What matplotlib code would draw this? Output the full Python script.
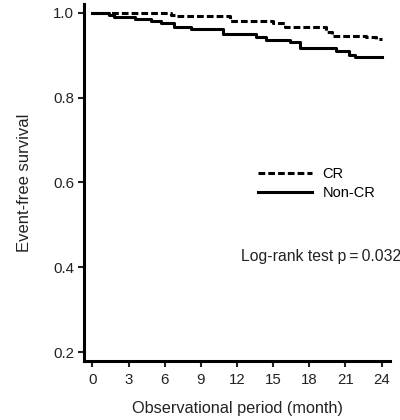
import matplotlib
matplotlib.use('Agg')
import matplotlib.pyplot as plt

plt.rcParams['font.family'] = ['Liberation Sans', 'DejaVu Sans']

# Kaplan-Meier estimates (months, survival)
cr_time = [0, 6.5, 7.0, 11.4, 15.0, 16.0, 19.4, 19.9, 22.7, 23.5, 24]
cr_surv = [1.0, 0.996, 0.992, 0.982, 0.975, 0.967, 0.955, 0.945, 0.942, 0.939, 0.939]

noncr_time = [0, 1.4, 1.8, 3.5, 4.9, 5.7, 6.8, 8.2, 10.8, 13.6, 14.4, 16.4,
              17.2, 20.2, 21.3, 21.8, 24]
noncr_surv = [1.0, 0.995, 0.99, 0.985, 0.98, 0.975, 0.967, 0.961, 0.951, 0.943,
              0.936, 0.931, 0.918, 0.91, 0.90, 0.895, 0.895]

x_ticks = [0, 3, 6, 9, 12, 15, 18, 21, 24]
y_ticks = [0.2, 0.4, 0.6, 0.8, 1.0]

fig = plt.figure(figsize=(4, 4.2), dpi=100)
ax = fig.add_axes([0.21, 0.1405, 0.765, 0.85])

LW = 2.2
ax.step(cr_time, cr_surv, where='post', color='black', lw=LW,
        dashes=(2.2, 1.0), label='CR')
ax.step(noncr_time, noncr_surv, where='post', color='black', lw=LW,
        label='Non-CR')

ax.set_xlim(-0.7, 24.7)
ax.set_ylim(0.179, 1.021)
ax.set_xticks(x_ticks)
ax.set_yticks(y_ticks)
ax.set_yticklabels(['%.1f' % v for v in y_ticks])

for side in ('top', 'right'):
    ax.spines[side].set_visible(False)
for side in ('left', 'bottom'):
    ax.spines[side].set_linewidth(LW)
ax.tick_params(direction='out', length=4, width=1.5, labelsize=10.8,
               colors='#222222')
ax.tick_params(axis='x', pad=5)
ax.tick_params(axis='y', pad=3)

ax.set_xlabel('Observational period (month)', fontsize=11.7, labelpad=10,
              color='#222222')
ax.set_ylabel('Event-free survival', fontsize=12, labelpad=15,
              color='#222222')

ax.legend(loc='upper left', bbox_to_anchor=(0.55, 0.559), frameon=False,
          handlelength=3.7, labelspacing=0.35, handletextpad=0.7,
          fontsize=10.5, borderaxespad=0)

ax.text(0.513, 0.294, 'Log-rank test p\u2009=\u20090.032', transform=ax.transAxes,
        fontsize=11.3, va='center', ha='left', color='#222222')

fig.savefig('out.png', dpi=100)
